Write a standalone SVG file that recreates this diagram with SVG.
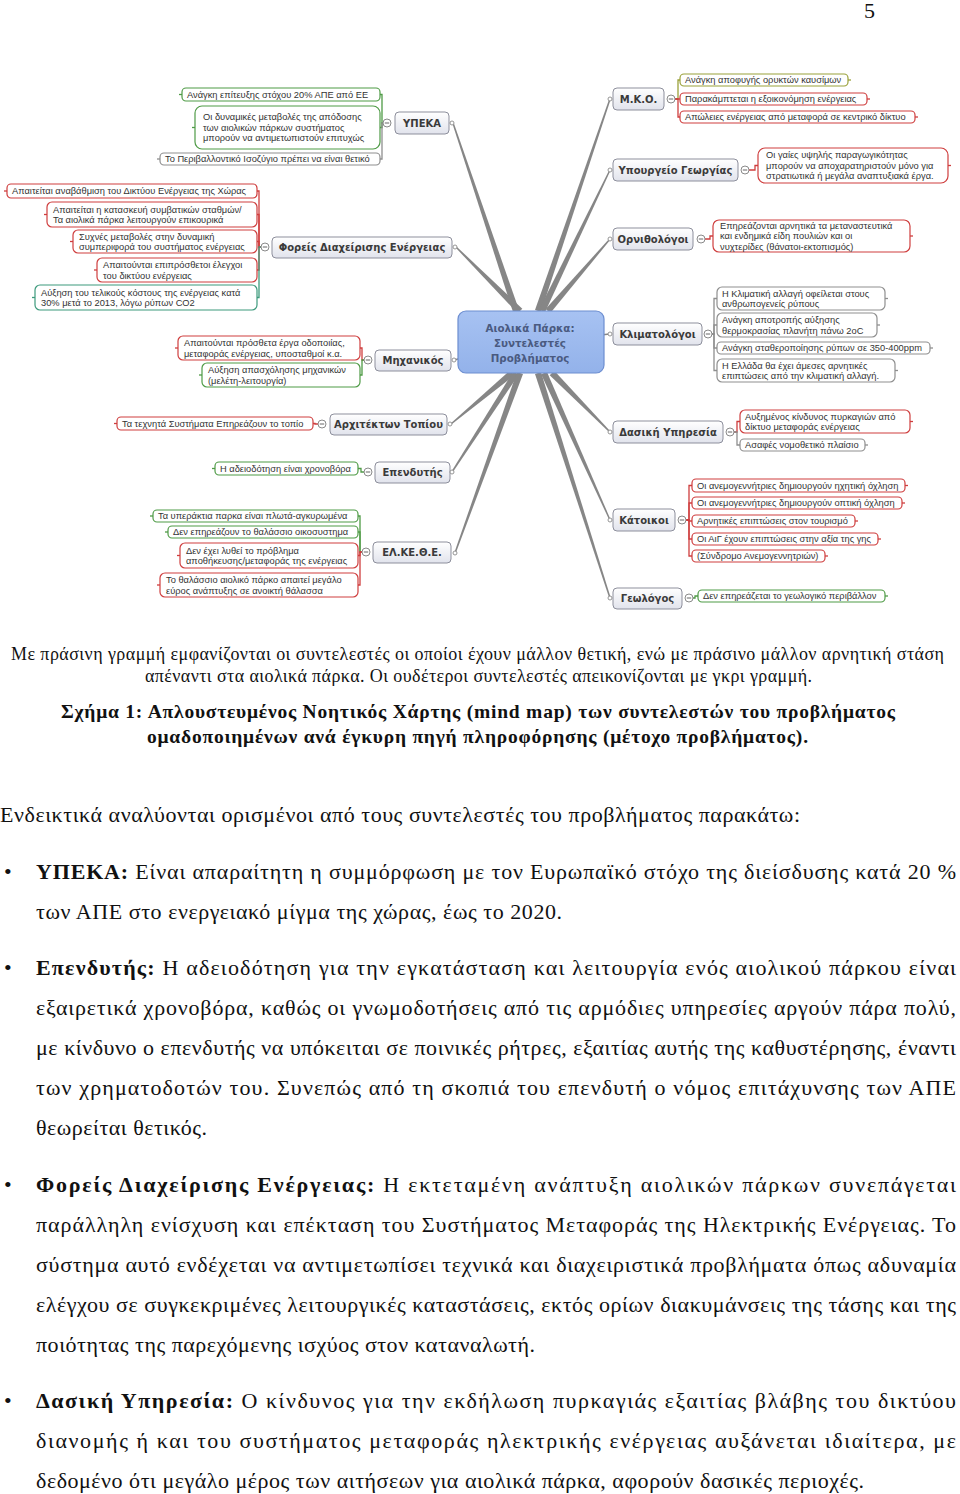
<svg xmlns="http://www.w3.org/2000/svg" xmlns:xlink="http://www.w3.org/1999/xlink" width="960" height="1494" viewBox="0 0 960 1494">
<defs>
<linearGradient id="bg" x1="0" y1="0" x2="0" y2="1"><stop offset="0" stop-color="#ffffff"/><stop offset="1" stop-color="#e1e3ec"/></linearGradient>
<linearGradient id="cg" x1="0" y1="0" x2="0" y2="1"><stop offset="0" stop-color="#a7c2f2"/><stop offset="1" stop-color="#93b2ea"/></linearGradient>
<g id="mn"><circle r="4" fill="#fff" stroke="#8a8a8a" stroke-width="1"/><path d="M-2.2,0H2.2" stroke="#666" stroke-width="1"/></g>
<circle id="ep" r="2" fill="#fff" stroke="#8a8a8a" stroke-width="0.9"/>
</defs>
<style>
.ml{fill:#868686}
.ln{fill:none;stroke-width:1.3}
.r{stroke:#cf3e3e}.g{stroke:#4f9b46}.t{stroke:#3d9a7c}.o{stroke:#9aa13a}.k{stroke:#8f8f8f}
.sb{fill:#fff;stroke-width:1.2}
.sx{font-family:"Liberation Sans",Arial,sans-serif;font-size:9.3px;fill:#333}
.bn{fill:url(#bg);stroke:#8d8f9c;stroke-width:1}
.bt{font-family:"DejaVu Sans",Verdana,sans-serif;font-weight:bold;font-size:10px;fill:#3a3a3a;text-anchor:middle}
.ct{font-family:"DejaVu Sans",Verdana,sans-serif;font-weight:bold;font-size:10.3px;fill:#4a5a80;text-anchor:middle}
.cap{font-family:"Liberation Serif","Times New Roman",serif;font-size:18px;fill:#111}
.capb{font-family:"Liberation Serif","Times New Roman",serif;font-size:19.5px;font-weight:bold;fill:#111}
.bd{font-family:"Liberation Serif","Times New Roman",serif;font-size:22px;fill:#111}
.b{font-weight:bold}
</style>
<rect width="960" height="1494" fill="#fff"/>
<text class="bd" x="864" y="18" font-size="19">5</text>

<g id="connectors">
<polygon class="ml" points="519.0,310.0 453.7,122.8 452.3,123.2 513.0,312.0"/>
<polygon class="ml" points="522.3,308.7 456.5,246.5 455.5,247.5 517.7,313.3"/>
<path d="M462,358 L454,360" stroke="#868686" stroke-width="1.6"/>
<polygon class="ml" points="509.9,370.5 450.6,423.5 451.4,424.5 514.1,375.5"/>
<polygon class="ml" points="513.3,371.3 451.4,471.6 452.6,472.4 518.7,374.7"/>
<polygon class="ml" points="517.0,371.9 454.3,552.8 455.7,553.2 523.0,374.1"/>
<polygon class="ml" points="541.0,312.0 610.7,99.2 609.3,98.8 535.0,310.0"/>
<polygon class="ml" points="544.9,312.4 610.6,170.3 609.4,169.7 539.1,309.6"/>
<polygon class="ml" points="550.4,313.1 610.5,239.5 609.5,238.5 545.6,308.9"/>
<path d="M600,335 L610,334" stroke="#868686" stroke-width="1.6"/>
<polygon class="ml" points="549.7,375.2 609.5,432.5 610.5,431.5 554.3,370.8"/>
<polygon class="ml" points="541.1,374.3 609.4,520.3 610.6,519.7 546.9,371.7"/>
<polygon class="ml" points="535.0,374.0 609.3,598.2 610.7,597.8 541.0,372.0"/>

<path class="ln g" d="M383,123 H382 V94.5 H380"/>
<path class="ln g" d="M383,123 H382 V127.5 H380"/>
<path class="ln k" d="M383,123 H382 V159 H380"/>
<path class="ln g" d="M182,94.5 h-3"/><path class="ln g" d="M195,127.5 h-3"/><path class="ln k" d="M160,159 h-3"/>
<path class="ln r" d="M261,247 H259 V191 H257"/>
<path class="ln r" d="M261,247 H259 V214.5 H257"/>
<path class="ln r" d="M261,247 H259 V241.5 H257"/>
<path class="ln r" d="M261,247 H259 V270 H257"/>
<path class="ln t" d="M261,247 H259 V297.5 H257"/>
<path class="ln r" d="M7,191 h-3"/><path class="ln r" d="M47,214.5 h-3"/><path class="ln r" d="M73,241.5 h-3"/><path class="ln r" d="M97,270 h-3"/><path class="ln t" d="M35,297.5 h-3"/>
<path class="ln r" d="M364,360 H362 V348 H360"/>
<path class="ln g" d="M364,360 H362 V375 H360"/>
<path class="ln r" d="M178,348 h-3"/><path class="ln g" d="M202,375 h-3"/>
<path class="ln r" d="M318,424 H315 V423.5 H313"/>
<path class="ln r" d="M117,423.5 h-3"/>
<path class="ln g" d="M364,472 H361 V468.5 H358"/>
<path class="ln g" d="M215,468.5 h-3"/>
<path class="ln g" d="M362,552 H360 V516 H358"/>
<path class="ln g" d="M362,552 H360 V532 H358"/>
<path class="ln r" d="M362,552 H360 V555.5 H358"/>
<path class="ln r" d="M362,552 H360 V585 H358"/>
<path class="ln g" d="M153,516 h-3"/><path class="ln g" d="M168,532 h-3"/><path class="ln r" d="M180,555.5 h-3"/><path class="ln r" d="M160,585 h-3"/>
<path class="ln o" d="M675,99 H678 V80 H680"/>
<path class="ln r" d="M675,99 H678 V99 H680"/>
<path class="ln r" d="M675,99 H678 V117 H680"/>
<path class="ln o" d="M848,80 h3"/><path class="ln r" d="M867,99 h3"/><path class="ln r" d="M915,117 h3"/>
<path class="ln r" d="M749,170 H755 V165.5 H758"/>
<path class="ln r" d="M948,165.5 h3"/>
<path class="ln r" d="M705,239 H710 V236 H713"/>
<path class="ln r" d="M910,236 h3"/>
<path class="ln k" d="M712,334 H714 V298.5 H717"/>
<path class="ln k" d="M712,334 H714 V325 H717"/>
<path class="ln k" d="M712,334 H714 V348 H717"/>
<path class="ln k" d="M712,334 H714 V370.5 H717"/>
<path class="ln k" d="M885,298.5 h3"/><path class="ln k" d="M877,325 h3"/><path class="ln k" d="M930,348 h3"/><path class="ln k" d="M895,370.5 h3"/>
<path class="ln r" d="M734,432 H737 V421.5 H740"/>
<path class="ln k" d="M734,432 H737 V445 H740"/>
<path class="ln r" d="M910,421.5 h3"/><path class="ln k" d="M865,445 h3"/>
<path class="ln r" d="M686,520 H689 V485.5 H692"/>
<path class="ln r" d="M686,520 H689 V503 H692"/>
<path class="ln r" d="M686,520 H689 V521 H692"/>
<path class="ln r" d="M686,520 H689 V539 H692"/>
<path class="ln r" d="M686,520 H689 V556 H692"/>
<path class="ln r" d="M905,485.5 h3"/><path class="ln r" d="M902,503 h3"/><path class="ln r" d="M855,521 h3"/><path class="ln r" d="M878,539 h3"/><path class="ln r" d="M825,556 h3"/>
<path class="ln g" d="M693,598 H695 V596 H698"/>
<path class="ln g" d="M885,596 h3"/>
</g>

<g id="n-center">
<rect x="458" y="311" width="146" height="62" rx="8" fill="url(#cg)" stroke="#6d8ed0" stroke-width="1.2"/>
<text class="ct" x="530" y="332">Αιολικά Πάρκα:</text>
<text class="ct" x="530" y="347">Συντελεστές</text>
<text class="ct" x="530" y="362">Προβλήματος</text>
</g>

<g id="n-ypeka">
<rect class="bn" x="395" y="112" width="54" height="22" rx="4"/>
<text class="bt" x="422" y="126.5">ΥΠΕΚΑ</text>
<use xlink:href="#mn" x="387" y="123"/><use xlink:href="#ep" x="452" y="123"/>
</g>
<g id="n-ypeka-1"><rect class="sb g" x="182" y="88" width="198" height="13" rx="4"/><text class="sx" x="187" y="97.7">Ανάγκη επίτευξης στόχου 20% ΑΠΕ από ΕΕ</text></g>
<g id="n-ypeka-2"><rect class="sb g" x="195" y="106" width="185" height="43" rx="7"/><text class="sx" x="203" y="120.2">Οι δυναμικές μεταβολές της απόδοσης</text><text class="sx" x="203" y="130.7">των αιολικών πάρκων συστήματος</text><text class="sx" x="203" y="141.2">μπορούν να αντιμετωπιστούν επιτυχώς</text></g>
<g id="n-ypeka-3"><rect class="sb k" x="160" y="153" width="220" height="12" rx="4"/><text class="sx" x="165" y="162.2">Το Περιβαλλοντικό Ισοζύγιο πρέπει να είναι θετικό</text></g>

<g id="n-foreis">
<rect class="bn" x="272" y="237" width="180" height="21" rx="4"/>
<text class="bt" x="362" y="251">Φορείς Διαχείρισης Ενέργειας</text>
<use xlink:href="#mn" x="265" y="247"/><use xlink:href="#ep" x="455" y="247"/>
</g>
<g id="n-foreis-1"><rect class="sb r" x="7" y="184" width="250" height="14" rx="4"/><text class="sx" x="12" y="194.2">Απαιτείται αναβάθμιση του Δικτύου Ενέργειας της Χώρας</text></g>
<g id="n-foreis-2"><rect class="sb r" x="47" y="202" width="210" height="25" rx="5"/><text class="sx" x="53" y="212.5">Απαιτείται η κατασκευή συμβατικών σταθμών/</text><text class="sx" x="53" y="223">Τα αιολικά πάρκα λειτουργούν επικουρικά</text></g>
<g id="n-foreis-3"><rect class="sb r" x="73" y="230" width="184" height="23" rx="5"/><text class="sx" x="79" y="239.5">Συχνές μεταβολές στην δυναμική</text><text class="sx" x="79" y="250">συμπεριφορά του συστήματος ενέργειας</text></g>
<g id="n-foreis-4"><rect class="sb r" x="97" y="258" width="160" height="24" rx="5"/><text class="sx" x="103" y="268">Απαιτούνται επιπρόσθετοι έλεγχοι</text><text class="sx" x="103" y="278.5">του δικτύου ενέργειας</text></g>
<g id="n-foreis-5"><rect class="sb t" x="35" y="285" width="222" height="25" rx="5"/><text class="sx" x="41" y="295.5">Αύξηση του τελικούς κόστους της ενέργειας κατά</text><text class="sx" x="41" y="306">30% μετά το 2013, λόγω ρύπων CO2</text></g>

<g id="n-michanikos">
<rect class="bn" x="375" y="350" width="76" height="21" rx="4"/>
<text class="bt" x="413" y="364">Μηχανικός</text>
<use xlink:href="#mn" x="368" y="360"/><use xlink:href="#ep" x="454" y="360"/>
</g>
<g id="n-michanikos-1"><rect class="sb r" x="178" y="336" width="182" height="24" rx="5"/><text class="sx" x="184" y="346">Απαιτούνται πρόσθετα έργα οδοποιίας,</text><text class="sx" x="184" y="356.5">μεταφοράς ενέργειας, υποσταθμοί κ.α.</text></g>
<g id="n-michanikos-2"><rect class="sb g" x="202" y="363" width="158" height="24" rx="5"/><text class="sx" x="208" y="373">Αύξηση απασχόλησης μηχανικών</text><text class="sx" x="208" y="383.5">(μελέτη-λειτουργία)</text></g>

<g id="n-architekton">
<rect class="bn" x="330" y="414" width="117" height="21" rx="4"/>
<text class="bt" x="388.5" y="428">Αρχιτέκτων Τοπίου</text>
<use xlink:href="#mn" x="322" y="424"/><use xlink:href="#ep" x="450" y="424"/>
</g>
<g id="n-architekton-1"><rect class="sb r" x="117" y="417" width="196" height="13" rx="4"/><text class="sx" x="122" y="426.7">Τα τεχνητά Συστήματα Επηρεάζουν το τοπίο</text></g>

<g id="n-ependytis">
<rect class="bn" x="375" y="462" width="75" height="21" rx="4"/>
<text class="bt" x="412.5" y="476">Επενδυτής</text>
<use xlink:href="#mn" x="368" y="472"/><use xlink:href="#ep" x="452" y="472"/>
</g>
<g id="n-ependytis-1"><rect class="sb g" x="215" y="462" width="143" height="13" rx="4"/><text class="sx" x="220" y="471.7">Η αδειοδότηση είναι χρονοβόρα</text></g>

<g id="n-elkethe">
<rect class="bn" x="373" y="542" width="78" height="21" rx="4"/>
<text class="bt" x="412" y="556">ΕΛ.ΚΕ.Θ.Ε.</text>
<use xlink:href="#mn" x="366" y="552"/><use xlink:href="#ep" x="455" y="553"/>
</g>
<g id="n-elkethe-1"><rect class="sb g" x="153" y="510" width="205" height="12" rx="4"/><text class="sx" x="158" y="519.2">Τα υπεράκτια παρκα είναι πλωτά-αγκυρωμένα</text></g>
<g id="n-elkethe-2"><rect class="sb g" x="168" y="526" width="190" height="12" rx="4"/><text class="sx" x="173" y="535.2">Δεν επηρεάζουν το θαλάσσιο οικοσυστημα</text></g>
<g id="n-elkethe-3"><rect class="sb r" x="180" y="543" width="178" height="25" rx="5"/><text class="sx" x="186" y="553.5">Δεν έχει λυθεί το πρόβλημα</text><text class="sx" x="186" y="564">αποθήκευσης/μεταφοράς της ενέργειας</text></g>
<g id="n-elkethe-4"><rect class="sb r" x="160" y="573" width="198" height="24" rx="5"/><text class="sx" x="166" y="583">Το θαλάσσιο αιολικό πάρκο απαιτεί μεγάλο</text><text class="sx" x="166" y="593.5">εύρος ανάπτυξης σε ανοικτή θάλασσα</text></g>

<g id="n-mko">
<rect class="bn" x="613" y="88" width="51" height="22" rx="4"/>
<text class="bt" x="638.5" y="102.5">Μ.Κ.Ο.</text>
<use xlink:href="#mn" x="671" y="99"/><use xlink:href="#ep" x="610" y="99"/>
</g>
<g id="n-mko-1"><rect class="sb o" x="680" y="74" width="168" height="12" rx="4"/><text class="sx" x="685" y="83.2">Ανάγκη αποφυγής ορυκτών καυσίμων</text></g>
<g id="n-mko-2"><rect class="sb r" x="680" y="93" width="187" height="12" rx="4"/><text class="sx" x="685" y="102.2">Παρακάμπτεται η εξοικονόμηση ενέργειας</text></g>
<g id="n-mko-3"><rect class="sb r" x="680" y="111" width="235" height="12" rx="4"/><text class="sx" x="685" y="120.2">Απώλειες ενέργειας από μεταφορά σε κεντρικό δίκτυο</text></g>

<g id="n-ypourgeio">
<rect class="bn" x="613" y="159" width="125" height="22" rx="4"/>
<text class="bt" x="675.5" y="173.5">Υπουργείο Γεωργίας</text>
<use xlink:href="#mn" x="745" y="170"/><use xlink:href="#ep" x="610" y="170"/>
</g>
<g id="n-ypourgeio-1"><rect class="sb r" x="758" y="148" width="190" height="35" rx="7"/><text class="sx" x="766" y="158.2">Οι γαίες υψηλής παραγωγικότητας</text><text class="sx" x="766" y="168.7">μπορούν να αποχαρατηριστούν μόνο για</text><text class="sx" x="766" y="179.2">στρατιωτικά ή μεγάλα αναπτυξιακά έργα.</text></g>

<g id="n-ornithologoi">
<rect class="bn" x="613" y="228" width="80" height="22" rx="4"/>
<text class="bt" x="653" y="242.5">Ορνιθολόγοι</text>
<use xlink:href="#mn" x="701" y="239"/><use xlink:href="#ep" x="610" y="239"/>
</g>
<g id="n-ornithologoi-1"><rect class="sb r" x="713" y="220" width="197" height="32" rx="6"/><text class="sx" x="720" y="228.7">Επηρεάζονται αρνητικά τα μεταναστευτικά</text><text class="sx" x="720" y="239.2">και ενδημικά είδη πουλιών και οι</text><text class="sx" x="720" y="249.7">νυχτερίδες (θάνατοι-εκτοπισμός)</text></g>

<g id="n-klimatologoi">
<rect class="bn" x="613" y="323" width="89" height="22" rx="4"/>
<text class="bt" x="657.5" y="337.5">Κλιματολόγοι</text>
<use xlink:href="#mn" x="708" y="334"/><use xlink:href="#ep" x="610" y="334"/>
</g>
<g id="n-klimatologoi-1"><rect class="sb k" x="717" y="287" width="168" height="23" rx="5"/><text class="sx" x="722" y="296.5">Η Κλιματική αλλαγή οφείλεται στους</text><text class="sx" x="722" y="307">ανθρωπογενείς ρύπους</text></g>
<g id="n-klimatologoi-2"><rect class="sb k" x="717" y="313" width="160" height="24" rx="5"/><text class="sx" x="722" y="323">Ανάγκη αποτροπής αύξησης</text><text class="sx" x="722" y="333.5">θερμοκρασίας πλανήτη πάνω 2oC</text></g>
<g id="n-klimatologoi-3"><rect class="sb k" x="717" y="342" width="213" height="12" rx="4"/><text class="sx" x="722" y="351.2">Ανάγκη σταθεροποίησης ρύπων σε 350-400ppm</text></g>
<g id="n-klimatologoi-4"><rect class="sb k" x="717" y="359" width="178" height="23" rx="5"/><text class="sx" x="722" y="368.5">Η Ελλάδα θα έχει άμεσες αρνητικές</text><text class="sx" x="722" y="379">επιπτώσεις από την κλιματική αλλαγή.</text></g>

<g id="n-dasiki">
<rect class="bn" x="613" y="421" width="110" height="22" rx="4"/>
<text class="bt" x="668" y="435.5">Δασική Υπηρεσία</text>
<use xlink:href="#mn" x="730" y="432"/><use xlink:href="#ep" x="610" y="432"/>
</g>
<g id="n-dasiki-1"><rect class="sb r" x="740" y="410" width="170" height="23" rx="5"/><text class="sx" x="745" y="419.5">Αυξημένος κίνδυνος πυρκαγιών από</text><text class="sx" x="745" y="430">δίκτυο μεταφοράς ενέργειας</text></g>
<g id="n-dasiki-2"><rect class="sb k" x="740" y="439" width="125" height="12" rx="4"/><text class="sx" x="745" y="448.2">Ασαφές νομοθετικό πλαίσιο</text></g>

<g id="n-katoikoi">
<rect class="bn" x="613" y="509" width="62" height="22" rx="4"/>
<text class="bt" x="644" y="523.5">Κάτοικοι</text>
<use xlink:href="#mn" x="682" y="520"/><use xlink:href="#ep" x="610" y="520"/>
</g>
<g id="n-katoikoi-1"><rect class="sb r" x="692" y="479" width="213" height="13" rx="4"/><text class="sx" x="697" y="488.7">Οι ανεμογεννήτριες δημιουργούν ηχητική όχληση</text></g>
<g id="n-katoikoi-2"><rect class="sb r" x="692" y="497" width="210" height="12" rx="4"/><text class="sx" x="697" y="506.2">Οι ανεμογεννήτριες δημιουργούν οπτική όχληση</text></g>
<g id="n-katoikoi-3"><rect class="sb r" x="692" y="515" width="163" height="12" rx="4"/><text class="sx" x="697" y="524.2">Αρνητικές επιπτώσεις στον τουρισμό</text></g>
<g id="n-katoikoi-4"><rect class="sb r" x="692" y="533" width="186" height="12" rx="4"/><text class="sx" x="697" y="542.2">Οι ΑιΓ έχουν επιπτώσεις στην αξία της γης</text></g>
<g id="n-katoikoi-5"><rect class="sb r" x="692" y="550" width="133" height="12" rx="4"/><text class="sx" x="697" y="559.2">(Σύνδρομο Ανεμογεννητριών)</text></g>

<g id="n-geologos">
<rect class="bn" x="613" y="588" width="69" height="21" rx="4"/>
<text class="bt" x="647.5" y="602">Γεωλόγος</text>
<use xlink:href="#mn" x="689" y="598"/><use xlink:href="#ep" x="610" y="598"/>
</g>
<g id="n-geologos-1"><rect class="sb g" x="698" y="590" width="187" height="12" rx="4"/><text class="sx" x="703" y="599.2">Δεν επηρεάζεται το γεωλογικό περιβάλλον</text></g>

<text class="cap" x="11" y="660" textLength="933" lengthAdjust="spacing">Με πράσινη γραμμή εμφανίζονται οι συντελεστές οι οποίοι έχουν μάλλον θετική, ενώ με πράσινο μάλλον αρνητική στάση</text>
<text class="cap" x="145" y="682" textLength="667" lengthAdjust="spacing">απέναντι στα αιολικά πάρκα. Οι ουδέτεροι συντελεστές απεικονίζονται με γκρι γραμμή.</text>
<text class="capb" x="61" y="718" textLength="834" lengthAdjust="spacing">Σχήμα 1: Απλουστευμένος Νοητικός Χάρτης (mind map) των συντελεστών του προβλήματος</text>
<text class="capb" x="147" y="743" textLength="661" lengthAdjust="spacing">ομαδοποιημένων ανά έγκυρη πηγή πληροφόρησης (μέτοχο προβλήματος).</text>

<text class="bd" x="0" y="822" textLength="800" lengthAdjust="spacing">Ενδεικτικά αναλύονται ορισμένοι από τους συντελεστές του προβλήματος παρακάτω:</text>

<text class="bd" x="4" y="879">•</text>
<text class="bd" x="36" y="879" textLength="920" lengthAdjust="spacing"><tspan class="b">ΥΠΕΚΑ:</tspan> Είναι απαραίτητη η συμμόρφωση με τον Ευρωπαϊκό στόχο της διείσδυσης κατά 20 %</text>
<text class="bd" x="36" y="919" textLength="526" lengthAdjust="spacing">των ΑΠΕ στο ενεργειακό μίγμα της χώρας, έως το 2020.</text>

<text class="bd" x="4" y="975">•</text>
<text class="bd" x="36" y="975" textLength="920" lengthAdjust="spacing"><tspan class="b">Επενδυτής:</tspan> Η αδειοδότηση για την εγκατάσταση και λειτουργία ενός αιολικού πάρκου είναι</text>
<text class="bd" x="36" y="1015" textLength="920" lengthAdjust="spacing">εξαιρετικά χρονοβόρα, καθώς οι γνωμοδοτήσεις από τις αρμόδιες υπηρεσίες αργούν πάρα πολύ,</text>
<text class="bd" x="36" y="1055" textLength="920" lengthAdjust="spacing">με κίνδυνο ο επενδυτής να υπόκειται σε ποινικές ρήτρες, εξαιτίας αυτής της καθυστέρησης, έναντι</text>
<text class="bd" x="36" y="1095" textLength="920" lengthAdjust="spacing">των χρηματοδοτών του. Συνεπώς από τη σκοπιά του επενδυτή ο νόμος επιτάχυνσης των ΑΠΕ</text>
<text class="bd" x="36" y="1135" textLength="171" lengthAdjust="spacing">θεωρείται θετικός.</text>

<text class="bd" x="4" y="1192">•</text>
<text class="bd" x="36" y="1192" textLength="920" lengthAdjust="spacing"><tspan class="b">Φορείς Διαχείρισης Ενέργειας:</tspan> Η εκτεταμένη ανάπτυξη αιολικών πάρκων συνεπάγεται</text>
<text class="bd" x="36" y="1232" textLength="920" lengthAdjust="spacing">παράλληλη ενίσχυση και επέκταση του Συστήματος Μεταφοράς της Ηλεκτρικής Ενέργειας. Το</text>
<text class="bd" x="36" y="1272" textLength="920" lengthAdjust="spacing">σύστημα αυτό ενδέχεται να αντιμετωπίσει τεχνικά και διαχειριστικά προβλήματα όπως αδυναμία</text>
<text class="bd" x="36" y="1312" textLength="920" lengthAdjust="spacing">ελέγχου σε συγκεκριμένες λειτουργικές καταστάσεις, εκτός ορίων διακυμάνσεις της τάσης και της</text>
<text class="bd" x="36" y="1352" textLength="499" lengthAdjust="spacing">ποιότητας της παρεχόμενης ισχύος στον καταναλωτή.</text>

<text class="bd" x="4" y="1408">•</text>
<text class="bd" x="36" y="1408" textLength="920" lengthAdjust="spacing"><tspan class="b">Δασική Υπηρεσία:</tspan> Ο κίνδυνος για την εκδήλωση πυρκαγιάς εξαιτίας βλάβης του δικτύου</text>
<text class="bd" x="36" y="1448" textLength="920" lengthAdjust="spacing">διανομής ή και του συστήματος μεταφοράς ηλεκτρικής ενέργειας αυξάνεται ιδιαίτερα, με</text>
<text class="bd" x="36" y="1488" textLength="828" lengthAdjust="spacing">δεδομένο ότι μεγάλο μέρος των αιτήσεων για αιολικά πάρκα, αφορούν δασικές περιοχές.</text>
</svg>
